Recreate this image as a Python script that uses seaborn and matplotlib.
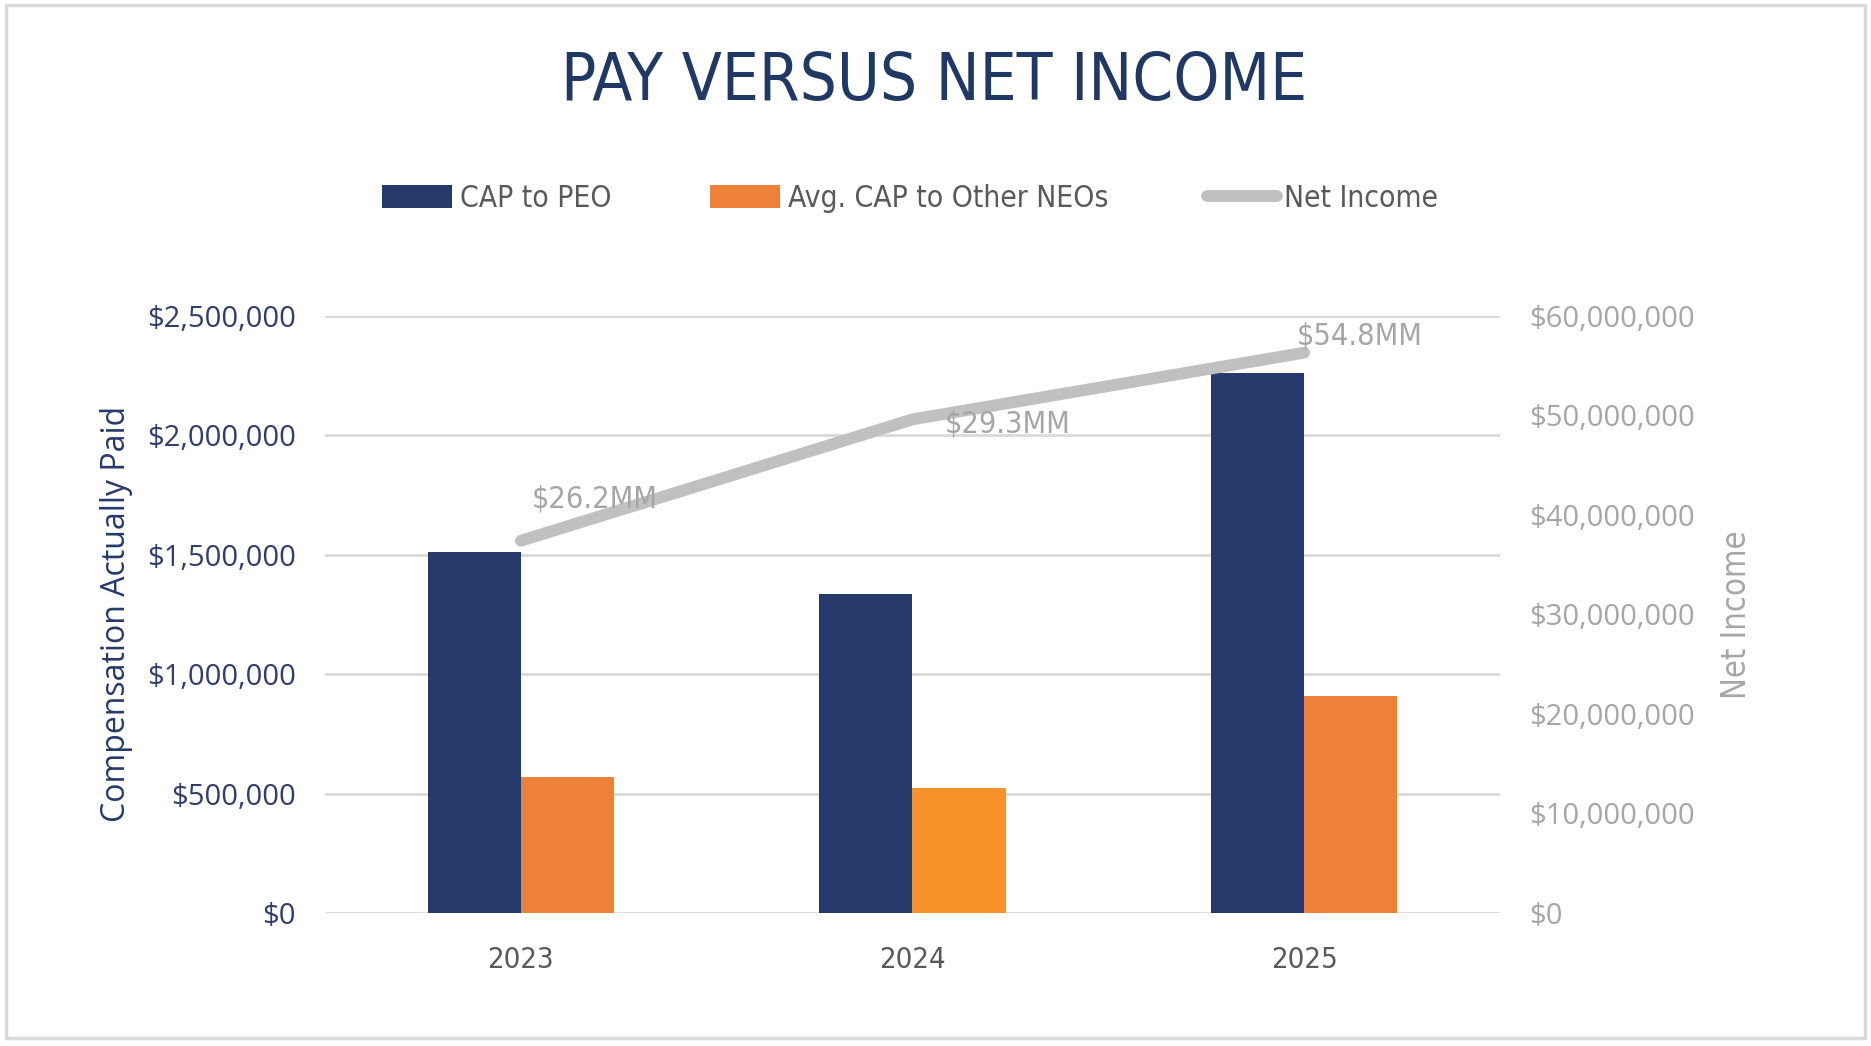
import numpy as np
import pandas as pd
import matplotlib
matplotlib.use("Agg")
import matplotlib.pyplot as plt
from matplotlib import font_manager
from matplotlib.lines import Line2D
from matplotlib.patches import Patch, Rectangle
import seaborn as sns

# ---- data ----
years = ["2023", "2024", "2025"]
cap_peo = [1510000, 1335000, 2260000]
cap_neo = [570000, 525000, 910000]
net_income = [37400000, 49600000, 56300000]
net_income_labels = ["$26.2MM", "$29.3MM", "$54.8MM"]
left_ticks = [0, 500000, 1000000, 1500000, 2000000, 2500000]
right_ticks = [0, 10000000, 20000000, 30000000, 40000000, 50000000, 60000000]

series_names = ["CAP to PEO", "Avg. CAP to Other NEOs"]
NAVY = "#253A6A"
ORANGE = "#ED8137"
ORANGE_24 = "#F7922A"
GREY_LINE = "#C0C0C0"
GREY_TXT = "#A6A6A6"
TITLE_C = "#203864"

sns.set_theme(style="white")
fl = font_manager.fontManager.ttflist
names = {f.name for f in fl}
cond_file = None
for f in fl:
    if f.name == "Liberation Sans Narrow":
        cond_file = f.fname
        break
if cond_file is None:
    for f in fl:
        if f.name == "DejaVu Sans" and "Condensed" in f.fname and "Bold" not in f.fname and "Oblique" not in f.fname:
            cond_file = f.fname
            break
wide = "Open Sans" if "Open Sans" in names else "DejaVu Sans"
plt.rcParams["font.family"] = [wide, "DejaVu Sans"]


def nfp(size):
    if cond_file is not None:
        return font_manager.FontProperties(fname=cond_file, size=size)
    return font_manager.FontProperties(family="DejaVu Sans", size=size)


df = pd.DataFrame({
    "Year": years * 2,
    "Series": [series_names[0]] * 3 + [series_names[1]] * 3,
    "Value": cap_peo + cap_neo,
})

fig = plt.figure(figsize=(18.71, 10.46), dpi=100)
ax = fig.add_axes([0.1737, 0.1272, 0.628, 0.5708])

sns.barplot(data=df, x="Year", y="Value", hue="Series", order=years,
            hue_order=series_names, palette=[NAVY, ORANGE], width=0.475,
            saturation=1, ax=ax, legend=False, linewidth=0)
neo_bars = ax.patches[3:6]
neo_bars[1].set_facecolor(ORANGE_24)

ax.set_ylim(0, 2500000)
ax.set_xlim(-0.5, 2.5)
ax.set_yticks(left_ticks)
ax.set_yticklabels([f"${v:,.0f}" for v in left_ticks], color="#2F3E6B", fontsize=21, family=[wide])
ax.yaxis.grid(True, color="#D9D9D9", linewidth=2)
ax.set_axisbelow(True)
for s in ax.spines.values():
    s.set_visible(False)
ax.tick_params(axis="y", length=0, pad=21)
ax.tick_params(axis="x", length=0, pad=24)
ax.set_xticks(range(len(years)))
ax.set_xticklabels(years)
for t in ax.get_xticklabels():
    t.set_fontproperties(nfp(21))
    t.set_color("#595959")
ax.set_xlabel("")
ax.set_ylabel("Compensation Actually Paid", color=NAVY, fontsize=23, family=[wide], labelpad=10)

ax2 = ax.twinx()
sns.lineplot(x=np.arange(len(years)), y=net_income, ax=ax2, color=GREY_LINE,
             linewidth=8.5, solid_capstyle="round", solid_joinstyle="round", zorder=5)
ax2.set_ylim(0, 60000000)
ax2.set_yticks(right_ticks)
ax2.set_yticklabels([f"${v:,.0f}" for v in right_ticks], color=GREY_TXT, fontsize=21, family=[wide])
ax2.tick_params(axis="y", length=0, pad=21)
for s in ax2.spines.values():
    s.set_visible(False)
ax2.set_ylabel("Net Income", color=GREY_TXT, fontproperties=nfp(23.5), labelpad=18)
ax2.set_xlim(-0.5, 2.5)

offsets = [(74, 42), (95, -5), (56, 17)]
for i, (lab, off) in enumerate(zip(net_income_labels, offsets)):
    ax2.annotate(lab, (i, net_income[i]), xytext=off, textcoords="offset pixels",
                 ha="center", va="center", color=GREY_TXT, fontproperties=nfp(22), zorder=6)

fig.text(0.4992, 0.922, "PAY VERSUS NET INCOME", ha="center", va="center",
         color=TITLE_C, fontproperties=nfp(47))

handles = [Patch(facecolor=NAVY, edgecolor="none"),
           Patch(facecolor=ORANGE, edgecolor="none"),
           Line2D([0], [0], color=GREY_LINE, linewidth=8.5, solid_capstyle="round")]
labels = ["CAP to PEO", "Avg. CAP to Other NEOs", "Net Income"]
leg = fig.legend(handles, labels, loc="center", bbox_to_anchor=(0.4865, 0.81), ncol=3,
                 frameon=False, prop=nfp(21.5), handlelength=2.35,
                 handleheight=0.8, handletextpad=0.25, columnspacing=3.3)
for t in leg.get_texts():
    t.set_color("#595959")

fig.patches.append(Rectangle((0.003, 0.008), 0.994, 0.987, transform=fig.transFigure,
                             fill=False, edgecolor="#D9D9D9", linewidth=2.5))

fig.savefig("out.png", dpi=100, facecolor="white")
